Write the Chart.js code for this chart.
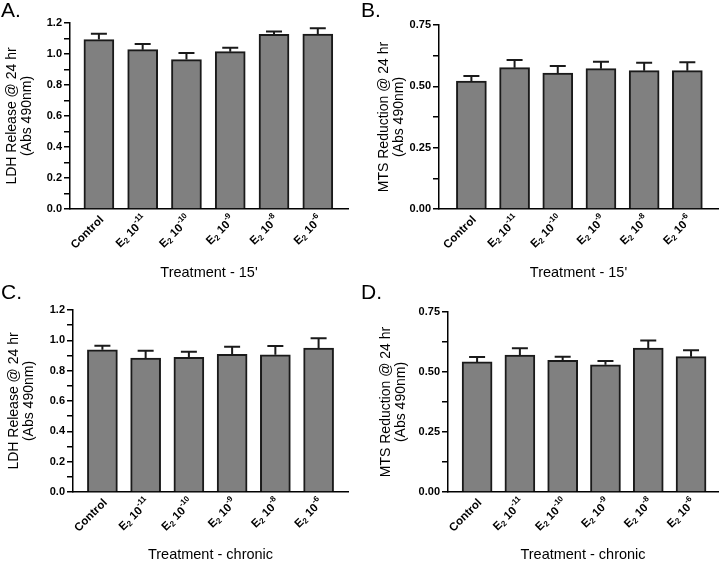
<!DOCTYPE html>
<html>
<head>
<meta charset="utf-8">
<script src="https://cdn.jsdelivr.net/npm/chart.js@4"></script>
<style>
body { margin: 0; background: #fff; }
#wrap { position: relative; width: 720px; height: 564px; overflow: hidden; font-family: 'Liberation Sans', Arial, sans-serif; }
.panel { position: absolute; width: 360px; height: 282px; }
.tag { position: absolute; left: 1px; top: 0; font-size: 21px; line-height: 20px; color: #000; }
</style>
</head>
<body>
<div id="wrap"></div>
<script>
// categories and values
var categories = ['Control', 'E_2 10^-11', 'E_2 10^-10', 'E_2 10^-9', 'E_2 10^-8', 'E_2 10^-6'];

var ldh15 = [1.093, 1.028, 0.964, 1.015, 1.127, 1.129];
var ldh15Err = [0.037, 0.037, 0.042, 0.026, 0.018, 0.037];

var mts15 = [0.521, 0.576, 0.554, 0.572, 0.564, 0.564];
var mts15Err = [0.021, 0.031, 0.029, 0.028, 0.032, 0.034];

var ldhChronic = [0.938, 0.883, 0.888, 0.908, 0.905, 0.949];
var ldhChronicErr = [0.026, 0.048, 0.037, 0.050, 0.057, 0.064];

var mtsChronic = [0.542, 0.570, 0.549, 0.530, 0.600, 0.564];
var mtsChronicErr = [0.021, 0.029, 0.015, 0.016, 0.031, 0.027];

var ldhTitle = ['LDH Release @ 24 hr', '(Abs 490nm)'];
var mtsTitle = ['MTS Reduction @ 24 hr', '(Abs 490nm)'];

Chart.defaults.font.family = "'Liberation Sans', Arial, sans-serif";
Chart.defaults.color = '#000';
Chart.defaults.animation = false;

var FONT = "'Liberation Sans', Arial, sans-serif";

// split "E_2 10^-11" into base / subscript / superscript pieces
function labelParts(label) {
    var parts = [];
    var re = /(_|\^)(\S+)|([^_^]+)/g;
    var m;
    while ((m = re.exec(label)) !== null) {
        if (m[1] === '_') parts.push({ t: m[2], size: 8, dy: 3 });
        else if (m[1] === '^') parts.push({ t: m[2], size: 8, dy: -5 });
        else parts.push({ t: m[3], size: 11.5, dy: 0 });
    }
    return parts;
}

// upper error bars drawn from the y scale
var errorBars = {
    id: 'errorBars',
    afterDatasetsDraw: function(chart, args, opts) {
        var ctx = chart.ctx;
        var y = chart.scales.y;
        var meta = chart.getDatasetMeta(0);
        ctx.save();
        ctx.strokeStyle = '#1a1a1a';
        ctx.lineWidth = 2;
        meta.data.forEach(function(bar, i) {
            var v = chart.data.datasets[0].data[i].y;
            var top = y.getPixelForValue(v + opts.errors[i]);
            ctx.beginPath();
            ctx.moveTo(bar.x, bar.y);
            ctx.lineTo(bar.x, top);
            ctx.moveTo(bar.x - 8, top);
            ctx.lineTo(bar.x + 8, top);
            ctx.stroke();
        });
        ctx.restore();
    }
};

// rotated category labels with sub/superscripts
var catLabels = {
    id: 'catLabels',
    afterDraw: function(chart) {
        var ctx = chart.ctx;
        var x = chart.scales.x;
        var base = chart.chartArea.bottom + 9;
        ctx.save();
        ctx.fillStyle = '#000';
        ctx.textBaseline = 'middle';
        categories.forEach(function(label, i) {
            var parts = labelParts(label);
            var total = 0;
            parts.forEach(function(pt) {
                ctx.font = 'bold ' + pt.size + 'px ' + FONT;
                pt.w = ctx.measureText(pt.t).width;
                total += pt.w;
            });
            ctx.save();
            ctx.translate(x.getPixelForValue(i) + 3, base);
            ctx.rotate(-Math.PI / 4);
            var cx = -total;
            parts.forEach(function(pt) {
                ctx.font = 'bold ' + pt.size + 'px ' + FONT;
                ctx.fillText(pt.t, cx, pt.dy);
                cx += pt.w;
            });
            ctx.restore();
        });
        ctx.restore();
    }
};

var panels = [
    { tag: 'A.', left: 0, top: 0, values: ldh15, errors: ldh15Err, yTitle: ldhTitle, xTitle: "Treatment - 15'",
      yMax: 1.2, step: 0.1, digits: 1, area: { l: 70, r: 348, t: 23, b: 209 }, xMin: -0.66, xMax: 5.69, titlePad: 4 },
    { tag: 'B.', left: 360, top: 0, values: mts15, errors: mts15Err, yTitle: mtsTitle, xTitle: "Treatment - 15'",
      yMax: 0.75, step: 0.125, digits: 2, area: { l: 79, r: 358, t: 25, b: 209 }, xMin: -0.75, xMax: 5.71, titlePad: 16 },
    { tag: 'C.', left: 0, top: 282, values: ldhChronic, errors: ldhChronicErr, yTitle: ldhTitle, xTitle: 'Treatment - chronic',
      yMax: 1.2, step: 0.1, digits: 1, area: { l: 73, r: 348, t: 28, b: 210 }, xMin: -0.68, xMax: 5.68, titlePad: 6 },
    { tag: 'D.', left: 360, top: 282, values: mtsChronic, errors: mtsChronicErr, yTitle: mtsTitle, xTitle: 'Treatment - chronic',
      yMax: 0.75, step: 0.125, digits: 2, area: { l: 88, r: 358, t: 30, b: 210 }, xMin: -0.68, xMax: 5.63, titlePad: 18 }
];

var wrap = document.getElementById('wrap');

panels.forEach(function(p) {
    var div = document.createElement('div');
    div.className = 'panel';
    div.style.left = p.left + 'px';
    div.style.top = p.top + 'px';
    var canvas = document.createElement('canvas');
    canvas.width = 360;
    canvas.height = 282;
    div.appendChild(canvas);
    var tag = document.createElement('div');
    tag.className = 'tag';
    tag.textContent = p.tag;
    div.appendChild(tag);
    wrap.appendChild(div);

    new Chart(canvas.getContext('2d'), {
        type: 'bar',
        data: {
            datasets: [{
                data: p.values.map(function(v, i) { return { x: i, y: v }; }),
                backgroundColor: '#808080',
                borderColor: '#1a1a1a',
                borderWidth: 2,
                barThickness: 30
            }]
        },
        options: {
            responsive: false,
            layout: { padding: { left: 0, right: 360 - p.area.r, top: p.area.t, bottom: 0 } },
            plugins: {
                legend: { display: false },
                tooltip: { enabled: false },
                errorBars: { errors: p.errors }
            },
            scales: {
                x: {
                    type: 'linear',
                    offset: false,
                    min: p.xMin,
                    max: p.xMax,
                    afterBuildTicks: function(s) {
                        s.ticks = categories.map(function(c, i) { return { value: i }; });
                    },
                    afterFit: function(s) { s.height = 282 - p.area.b; },
                    grid: { display: false, drawTicks: false },
                    border: { display: true, color: '#000', width: 1.5 },
                    ticks: { display: false },
                    title: {
                        display: true,
                        text: p.xTitle,
                        font: { size: 14.5 },
                        padding: { top: 0, bottom: 0 }
                    }
                },
                y: {
                    min: 0,
                    max: p.yMax,
                    afterFit: function(s) { s.width = p.area.l; },
                    grid: { drawOnChartArea: false, drawTicks: true, tickLength: 6, color: '#000', lineWidth: 1.5 },
                    border: { display: true, color: '#000', width: 1.5 },
                    ticks: {
                        stepSize: p.step,
                        maxTicksLimit: 20,
                        autoSkip: false,
                        padding: 2,
                        font: { size: 11, weight: 'bold' },
                        callback: function(v) {
                            return Math.round(v / p.step) % 2 === 0 ? v.toFixed(p.digits) : '';
                        }
                    },
                    title: {
                        display: true,
                        text: p.yTitle,
                        font: { size: 14, lineHeight: 1.1 },
                        padding: { top: p.titlePad, bottom: 0 }
                    }
                }
            }
        },
        plugins: [errorBars, catLabels]
    });
});
</script>
</body>
</html>
